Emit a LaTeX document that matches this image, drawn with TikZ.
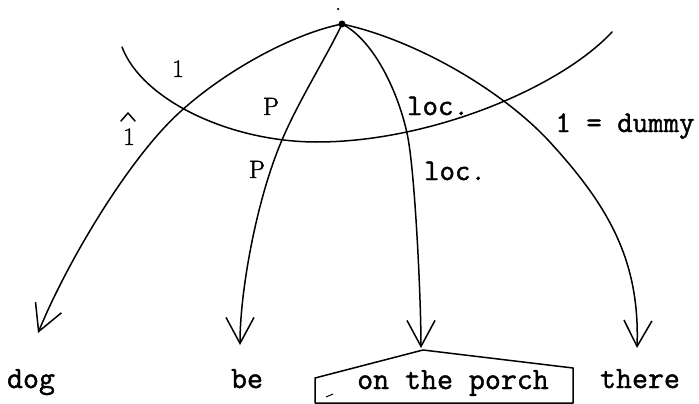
\documentclass[tikz,border=0pt]{standalone}
\usepackage{fontspec}
\newfontfamily\typew{Latin Modern Mono}[FakeBold=1.3]
\newfontfamily\handrm{Latin Modern Roman}[FakeBold=1.6]
\usetikzlibrary{arrows.meta}
\begin{document}
\begin{tikzpicture}[x=1pt,y=-1pt,
  stroke/.style={line width=1.5pt, line cap=round, line join=round},
  arr/.style={stroke, -{Straight Barb[length=26pt,width=28pt,line width=1.5pt]}},
  word/.style={font=\fontsize{31}{32}\typew, inner sep=0pt, anchor=base},
  lbl/.style={font=\fontsize{25}{26}\handrm, inner sep=0pt, anchor=base},
  tlbl/.style={font=\fontsize{30}{31}\typew, inner sep=0pt, anchor=base}]
\useasboundingbox (0,0) rectangle (699,404);
\fill[white] (0,0) rectangle (699,404);

% root and the small dot above it
\node[circle, fill=black, inner sep=0pt, minimum size=7pt] (root) at (342,24) {};
\node[circle, fill=black, inner sep=0pt, minimum size=2.5pt] (dot) at (338,9) {};

% words
\node[word] (dog) at (31,388) {dog};
\node[word] (be) at (247,388) {be};
\node[word] (porch) at (453,389) {on the porch};
\node[word] (there) at (640,388) {there};

% arrow tips
\coordinate (tdog) at (38,333);
\coordinate (tbe) at (240,345);
\coordinate (tporch) at (421,348);
\coordinate (tthere) at (637,348);

% crossing arc
\draw[stroke] (122,47) .. controls (142,100) and (230,142) .. (317,142)
  .. controls (430,142) and (560,88) .. (612,32);

% connectors
\draw[arr] (root.center) .. controls (292,34) and (225,71) .. (180,112)
  .. controls (130,157) and (68,260) .. (tdog);
\draw[arr] (root.center) .. controls (327,56) and (299,100) .. (282,140)
  .. controls (257,198) and (240,290) .. (tbe);
\draw[arr] (root.center) .. controls (372,39) and (397,88) .. (407,133)
  .. controls (415,169) and (421,300) .. (tporch);
\draw[arr] (root.center) .. controls (412,39) and (498,87) .. (548,140)
  .. controls (608,205) and (640,260) .. (tthere);

% box round "on the porch"
\draw[stroke] (315,403) -- (315,378) -- (423,350) -- (573,368) -- (573,403) -- cycle;
\draw[line width=1pt] (326,397) -- (333,394);

% labels
\node[lbl] (l1) at (178,77) {1};
\node[lbl] (l1hat) at (129,145) {1};
\draw[stroke] (121,121) -- (128,113) -- (135,121);
\node[lbl] (p1) at (271,115) {P};
\node[lbl] (p2) at (257,178) {P};
\node[tlbl] (loc1) at (438,115) {loc.};
\node[tlbl] (loc2) at (455,180) {loc.};
\node[tlbl] (dummy) at (625,132) {1 = dummy};
\end{tikzpicture}
\end{document}
